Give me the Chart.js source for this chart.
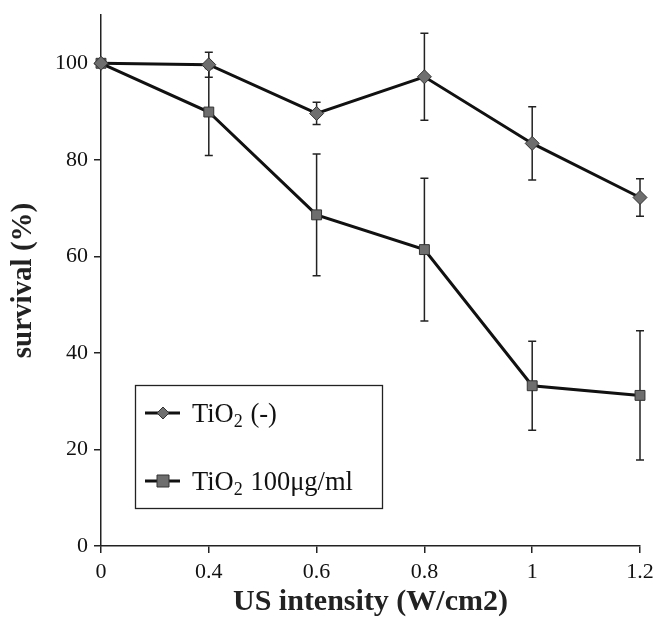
<!DOCTYPE html>
<html lang="en">
<head>
    <meta charset="UTF-8">
    <title>Survival vs US intensity</title>
    <script src="https://cdn.jsdelivr.net/npm/chart.js"></script>
    <style>
        html, body { margin: 0; padding: 0; background: #fff; }
        #wrap { width: 655px; height: 620px; }
    </style>
</head>
<body>
    <div id="wrap"><canvas id="survival-chart" width="655" height="620"></canvas></div>

    <script>
        // data
        const intensities = ['0', '0.4', '0.6', '0.8', '1', '1.2'];
        const yTicks = [0, 20, 40, 60, 80, 100];

        const tioNone = [100, 99.7, 89.6, 97.2, 83.4, 72.2];
        const tioNoneErr = [0, 2.6, 2.3, 9.0, 7.6, 3.9];

        const tio100 = [100, 89.9, 68.6, 61.4, 33.2, 31.2];
        const tio100Err = [0, 9.0, 12.6, 14.8, 9.2, 13.4];

        const serif = "'Liberation Serif', 'DejaVu Serif', serif";

        // error bars drawn from the dataset values through the chart scales
        const errorBars = {
            id: 'errorBars',
            beforeDatasetsDraw(chart) {
                const ctx = chart.ctx;
                const x = chart.scales.x, y = chart.scales.y;
                ctx.save();
                ctx.strokeStyle = '#222';
                ctx.lineWidth = 1.5;
                chart.data.datasets.forEach(ds => {
                    ds.errors.forEach((e, i) => {
                        if (!e) return;
                        const px = x.getPixelForValue(i);
                        const top = y.getPixelForValue(ds.data[i] + e);
                        const bot = y.getPixelForValue(ds.data[i] - e);
                        ctx.beginPath();
                        ctx.moveTo(px, top); ctx.lineTo(px, bot);
                        ctx.moveTo(px - 4, top); ctx.lineTo(px + 4, top);
                        ctx.moveTo(px - 4, bot); ctx.lineTo(px + 4, bot);
                        ctx.stroke();
                    });
                });
                ctx.restore();
            }
        };

        // boxed legend inside the plot, with subscript in TiO2
        const boxLegend = {
            id: 'boxLegend',
            afterDraw(chart) {
                const ctx = chart.ctx;
                ctx.save();
                ctx.strokeStyle = '#222';
                ctx.lineWidth = 1.3;
                ctx.strokeRect(135.5, 385.5, 247, 123);
                const rows = [413, 481];
                chart.data.datasets.forEach((ds, i) => {
                    const cy = rows[i];
                    ctx.strokeStyle = '#111';
                    ctx.lineWidth = 3;
                    ctx.beginPath();
                    ctx.moveTo(145, cy); ctx.lineTo(180, cy);
                    ctx.stroke();
                    ctx.fillStyle = ds.pointBackgroundColor;
                    ctx.strokeStyle = '#333';
                    ctx.lineWidth = 1;
                    ctx.beginPath();
                    if (ds.pointStyle === 'rect') {
                        ctx.rect(157, cy - 6, 12, 12);
                    } else {
                        ctx.moveTo(163, cy - 6); ctx.lineTo(169, cy);
                        ctx.lineTo(163, cy + 6); ctx.lineTo(157, cy);
                        ctx.closePath();
                    }
                    ctx.fill(); ctx.stroke();

                    ctx.fillStyle = '#111';
                    ctx.textBaseline = 'alphabetic';
                    ctx.font = '26.5px ' + serif;
                    let tx = 192;
                    const base = cy + 9;
                    ctx.fillText('TiO', tx, base);
                    tx += ctx.measureText('TiO').width;
                    ctx.font = '18px ' + serif;
                    ctx.fillText('2', tx, base + 5);
                    tx += ctx.measureText('2').width + 1;
                    ctx.font = '26.5px ' + serif;
                    ctx.fillText(ds.suffix, tx, base);
                });
                ctx.restore();
            }
        };

        new Chart(document.getElementById('survival-chart'), {
            type: 'line',
            data: {
                labels: intensities,
                datasets: [
                    {
                        label: 'TiO2 (-)',
                        suffix: ' (-)',
                        data: tioNone,
                        errors: tioNoneErr,
                        borderColor: '#111',
                        borderWidth: 3,
                        pointStyle: 'rectRot',
                        pointRadius: 7,
                        pointBackgroundColor: '#6e6e6e',
                        pointBorderColor: '#333',
                        pointBorderWidth: 1,
                        tension: 0
                    },
                    {
                        label: 'TiO2 100μg/ml',
                        suffix: ' 100μg/ml',
                        data: tio100,
                        errors: tio100Err,
                        borderColor: '#111',
                        borderWidth: 3,
                        pointStyle: 'rect',
                        pointRadius: 7,
                        pointBackgroundColor: '#6e6e6e',
                        pointBorderColor: '#333',
                        pointBorderWidth: 1,
                        tension: 0
                    }
                ]
            },
            options: {
                responsive: false,
                animation: false,
                layout: { padding: { top: 15, right: 15, left: 0, bottom: 0 } },
                plugins: {
                    legend: { display: false },
                    tooltip: { enabled: false }
                },
                scales: {
                    x: {
                        offset: false,
                        afterFit: s => { s.height = 74; s.paddingRight = 0; s.paddingLeft = 0; },
                        grid: { display: true, drawOnChartArea: false, drawTicks: true, tickLength: 7, offset: false, color: '#222', lineWidth: 1.5 },
                        border: { color: '#222', width: 1.5 },
                        ticks: { color: '#111', font: { family: serif, size: 22 }, padding: 6, maxRotation: 0 },
                        title: { display: true, text: 'US intensity (W/cm2)', color: '#222', font: { family: serif, size: 30, weight: 'bold' }, padding: { top: 0, bottom: 0 } }
                    },
                    y: {
                        min: 0,
                        max: 110,
                        afterFit: s => { s.width = 101; s.paddingTop = 0; s.paddingBottom = 0; },
                        afterBuildTicks: s => { s.ticks = yTicks.map(v => ({ value: v })); },
                        grid: { display: true, drawOnChartArea: false, drawTicks: true, tickLength: 7, color: '#222', lineWidth: 1.5 },
                        border: { color: '#222', width: 1.5 },
                        ticks: { color: '#111', font: { family: serif, size: 22 }, padding: 6 },
                        title: { display: true, text: 'survival (%)', color: '#222', font: { family: serif, size: 29, weight: 'bold' }, padding: { top: 6, bottom: 0 } }
                    }
                }
            },
            plugins: [errorBars, boxLegend]
        });
    </script>
</body>
</html>
